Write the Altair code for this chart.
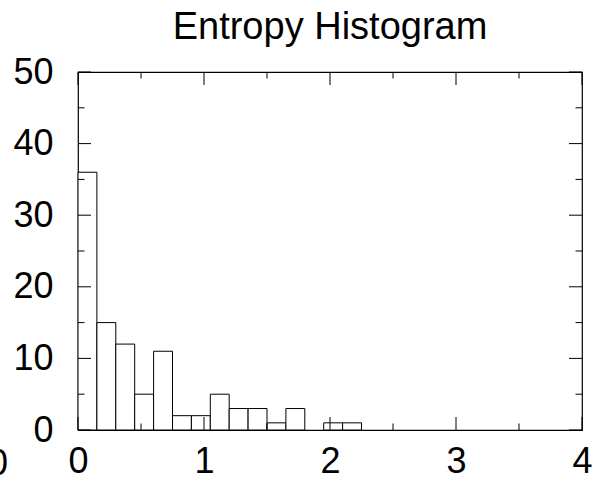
import altair as alt
import pandas as pd

# Histogram bins (bin width 0.15)
bin_start = [0.0, 0.15, 0.30, 0.45, 0.60, 0.75, 0.90, 1.05, 1.20, 1.35, 1.50, 1.65, 1.80, 1.95, 2.10]
bin_end = [0.15, 0.30, 0.45, 0.60, 0.75, 0.90, 1.05, 1.20, 1.35, 1.50, 1.65, 1.80, 1.95, 2.10, 2.25]
counts = [36, 15, 12, 5, 11, 2, 2, 5, 3, 3, 1, 3, 0, 1, 1]

x_major = [0, 1, 2, 3, 4]
x_minor = [0.5, 1.5, 2.5, 3.5]
y_major = [0, 10, 20, 30, 40, 50]
y_minor = [5, 15, 25, 35, 45]

FONT = "Liberation Sans"
W, H = 504, 358
MAJ, MIN = 13, 6.5

bars_df = pd.DataFrame({"start": bin_start, "end": bin_end, "count": counts})
bars_df = bars_df[bars_df["count"] > 0]

xs = alt.Scale(domain=[0, 4], nice=False, zero=False)
ys = alt.Scale(domain=[0, 50], nice=False, zero=False)

x_axis = alt.Axis(values=x_major, format="d", domain=False, ticks=False, grid=False,
                  labelFont=FONT, labelFontSize=36, labelColor="black",
                  labelPadding=14, labelFlush=False, labelOverlap=False, title=None)
y_axis = alt.Axis(values=y_major, format="d", domain=False, ticks=False, grid=False,
                  labelFont=FONT, labelFontSize=36, labelColor="black",
                  labelPadding=25, labelFlush=False, labelOverlap=False, title=None)

bars = alt.Chart(bars_df).mark_rect(fill="white", stroke="black", strokeWidth=1).encode(
    x=alt.X("start:Q", scale=xs, axis=x_axis),
    x2="end:Q",
    y=alt.Y("count:Q", scale=ys, axis=y_axis),
    y2=alt.datum(0),
)

def xticks(vals, length):
    df = pd.DataFrame({"start": vals})
    bottom = alt.Chart(df).mark_rule(color="black", strokeWidth=1).encode(
        x=alt.X("start:Q", scale=xs, axis=x_axis), y=alt.value(H), y2=alt.value(H - length))
    top = alt.Chart(df).mark_rule(color="black", strokeWidth=1).encode(
        x=alt.X("start:Q", scale=xs, axis=x_axis), y=alt.value(0), y2=alt.value(length))
    return [bottom, top]

def yticks(vals, length):
    df = pd.DataFrame({"count": vals})
    left = alt.Chart(df).mark_rule(color="black", strokeWidth=1).encode(
        y=alt.Y("count:Q", scale=ys, axis=y_axis), x=alt.value(0), x2=alt.value(length))
    right = alt.Chart(df).mark_rule(color="black", strokeWidth=1).encode(
        y=alt.Y("count:Q", scale=ys, axis=y_axis), x=alt.value(W), x2=alt.value(W - length))
    return [left, right]

# stray clipped "0" label at the far left of the x-axis label row
stray = alt.Chart(pd.DataFrame({"t": ["0"]})).mark_text(
    font=FONT, fontSize=36, color="black", align="center", baseline="alphabetic"
).encode(text="t:N", x=alt.value(-80), y=alt.value(H + 45))

layers = [bars] + xticks(x_major, MAJ) + xticks(x_minor, MIN) + yticks(y_major, MAJ) + yticks(y_minor, MIN) + [stray]

chart = alt.layer(*layers).properties(
    width=W, height=H,
    title=alt.Title("Entropy Histogram", font=FONT, fontSize=38, fontWeight="normal",
                    color="black", anchor="middle", offset=0, dy=23, baseline="alphabetic"),
    autosize=alt.AutoSizeParams(type="none"),
    padding={"left": 78, "top": 72, "right": 12, "bottom": 52},
).configure(background="white").configure_view(stroke="black", strokeWidth=1.2)

chart.save("out.html", embed_options={"renderer": "svg", "actions": False})
